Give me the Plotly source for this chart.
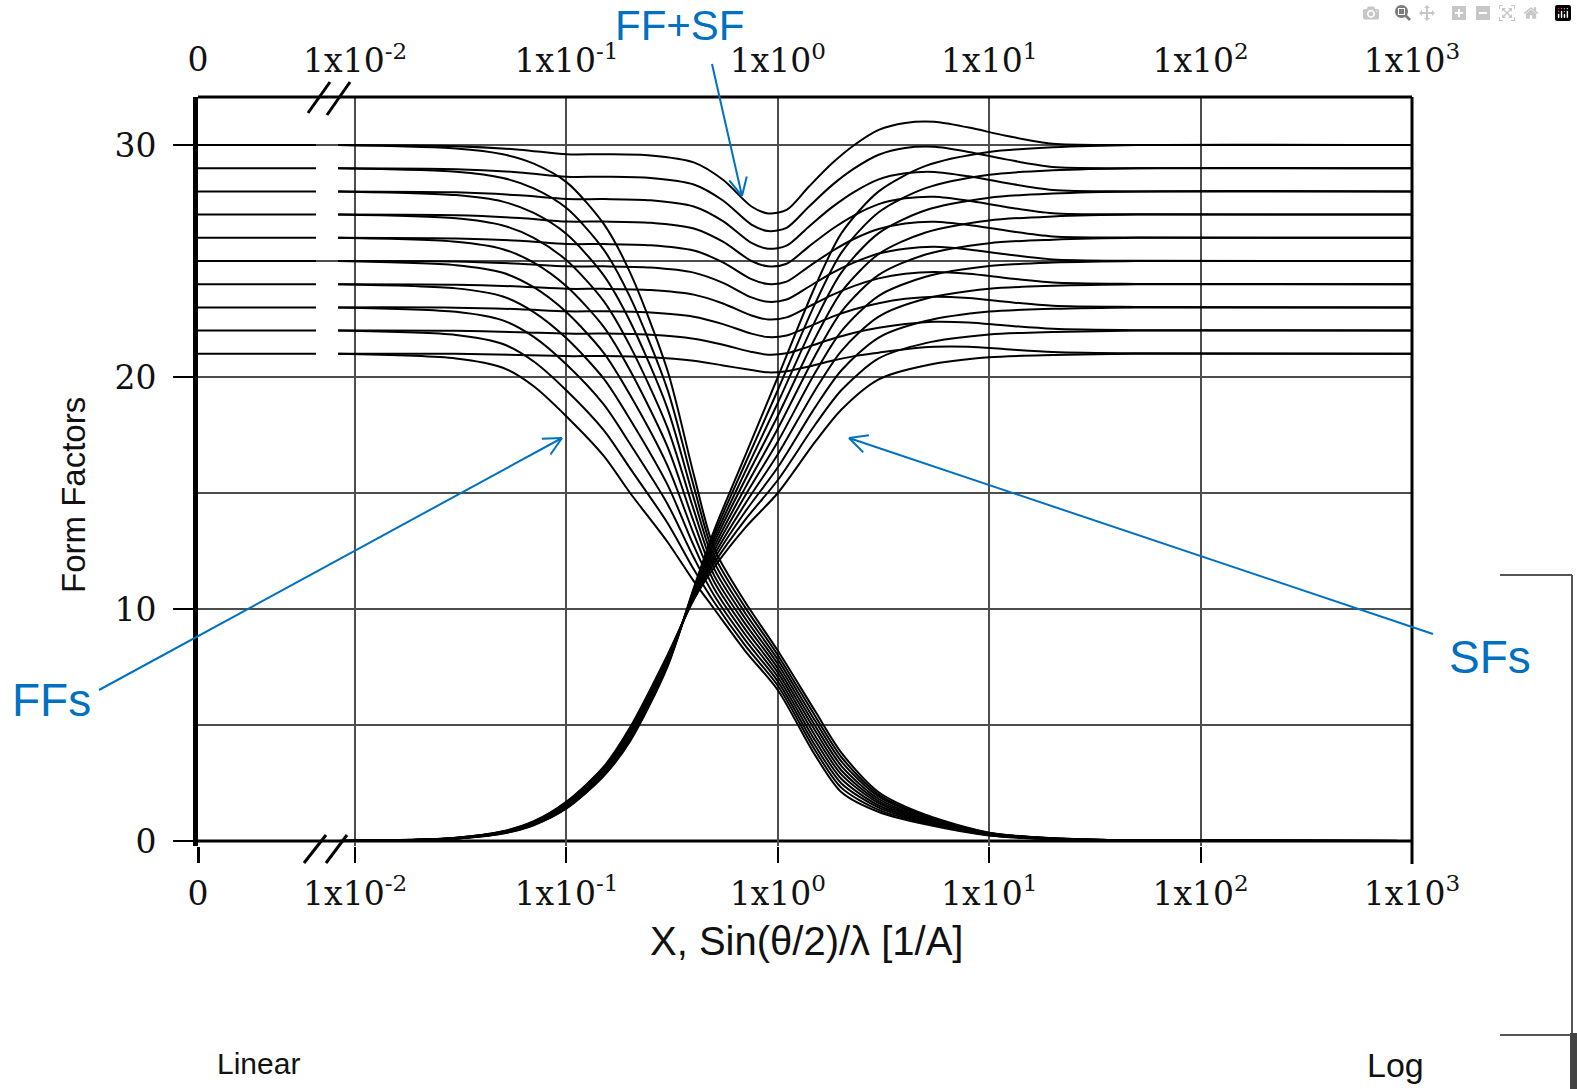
import math
import plotly.graph_objects as go

# ---------------- data ----------------
Z_VALUES = [21, 22, 23, 24, 25, 26, 27, 28, 29, 30]

# linear (0 ... break) part of the x axis
LIN_X = [0.0, 0.0075]

# Form factors (FF)
FF_X = [0.0083, 0.03, 0.05, 0.07, 0.1, 0.15, 0.2, 0.3, 0.4, 0.5, 0.7, 1.0, 1.5, 2.0, 3.0, 5.0, 10.0, 20.0, 50.0, 1000.0]
FF_VALUES = [
    [21.0, 20.8, 20.4, 19.6, 18.3, 16.6, 15.0, 12.9, 11.2, 10.0, 8.2, 6.5, 3.7, 2.1, 1.25, 0.72, 0.24, 0.08, 0.02, 0.0],
    [22.0, 21.81, 21.42, 20.67, 19.42, 17.71, 16.06, 13.72, 11.71, 10.29, 8.43, 6.69, 3.91, 2.29, 1.34, 0.77, 0.25, 0.08, 0.02, 0.0],
    [23.0, 22.81, 22.44, 21.73, 20.54, 18.82, 17.11, 14.54, 12.22, 10.58, 8.67, 6.88, 4.12, 2.48, 1.44, 0.81, 0.26, 0.09, 0.02, 0.0],
    [24.0, 23.82, 23.47, 22.8, 21.67, 19.93, 18.17, 15.37, 12.73, 10.87, 8.90, 7.07, 4.33, 2.67, 1.53, 0.86, 0.28, 0.09, 0.02, 0.0],
    [25.0, 24.82, 24.49, 23.87, 22.79, 21.04, 19.22, 16.19, 13.24, 11.16, 9.13, 7.26, 4.54, 2.86, 1.63, 0.90, 0.29, 0.10, 0.02, 0.0],
    [26.0, 25.83, 25.51, 24.93, 23.91, 22.16, 20.28, 17.01, 13.76, 11.44, 9.37, 7.44, 4.76, 3.04, 1.72, 0.95, 0.31, 0.10, 0.03, 0.0],
    [27.0, 26.84, 26.53, 26.0, 25.03, 23.27, 21.33, 17.83, 14.27, 11.73, 9.60, 7.63, 4.97, 3.23, 1.81, 0.99, 0.32, 0.11, 0.03, 0.0],
    [28.0, 27.84, 27.56, 27.07, 26.16, 24.38, 22.39, 18.66, 14.78, 12.02, 9.83, 7.82, 5.18, 3.42, 1.91, 1.04, 0.33, 0.11, 0.03, 0.0],
    [29.0, 28.85, 28.58, 28.13, 27.28, 25.49, 23.44, 19.48, 15.29, 12.31, 10.07, 8.01, 5.39, 3.61, 2.00, 1.08, 0.34, 0.12, 0.03, 0.0],
    [30.0, 29.85, 29.6, 29.2, 28.4, 26.6, 24.5, 20.3, 15.8, 12.6, 10.3, 8.2, 5.6, 3.8, 2.1, 1.13, 0.36, 0.12, 0.03, 0.0],
]

# Scattering functions (SF)
SF_X = [0.0083, 0.02, 0.03, 0.05, 0.07, 0.1, 0.15, 0.2, 0.3, 0.4, 0.5, 0.7, 1.0, 1.5, 2.0, 3.0, 5.0, 10.0, 20.0, 50.0, 1000.0]
SF_VALUES = [
    [0.0, 0.06, 0.14, 0.42, 0.85, 1.70, 3.20, 4.90, 8.00, 10.40, 11.80, 13.50, 15.00, 17.20, 18.60, 19.90, 20.50, 20.85, 20.95, 21.0, 21.0],
    [0.0, 0.06, 0.14, 0.41, 0.83, 1.67, 3.16, 4.83, 7.94, 10.46, 11.98, 13.84, 15.56, 17.94, 19.44, 20.80, 21.46, 21.83, 21.94, 22.0, 22.0],
    [0.0, 0.05, 0.13, 0.40, 0.81, 1.63, 3.11, 4.77, 7.89, 10.51, 12.16, 14.19, 16.11, 18.69, 20.29, 21.70, 22.41, 22.82, 22.94, 23.0, 23.0],
    [0.0, 0.05, 0.13, 0.39, 0.79, 1.60, 3.07, 4.70, 7.83, 10.57, 12.33, 14.53, 16.67, 19.43, 21.13, 22.60, 23.37, 23.80, 23.93, 24.0, 24.0],
    [0.0, 0.05, 0.12, 0.38, 0.77, 1.57, 3.02, 4.63, 7.78, 10.62, 12.51, 14.88, 17.22, 20.18, 21.98, 23.50, 24.32, 24.78, 24.93, 25.0, 25.0],
    [0.0, 0.05, 0.12, 0.36, 0.76, 1.53, 2.98, 4.57, 7.72, 10.68, 12.69, 15.22, 17.78, 20.92, 22.82, 24.40, 25.28, 25.77, 25.92, 26.0, 26.0],
    [0.0, 0.05, 0.11, 0.35, 0.74, 1.50, 2.93, 4.50, 7.67, 10.73, 12.87, 15.57, 18.33, 21.67, 23.67, 25.30, 26.23, 26.75, 26.92, 27.0, 27.0],
    [0.0, 0.04, 0.11, 0.34, 0.72, 1.47, 2.89, 4.43, 7.61, 10.79, 13.04, 15.91, 18.89, 22.41, 24.51, 26.20, 27.19, 27.73, 27.91, 28.0, 28.0],
    [0.0, 0.04, 0.10, 0.33, 0.70, 1.43, 2.84, 4.37, 7.56, 10.84, 13.22, 16.26, 19.44, 23.16, 25.36, 27.10, 28.14, 28.72, 28.91, 29.0, 29.0],
    [0.0, 0.04, 0.10, 0.32, 0.68, 1.40, 2.80, 4.30, 7.50, 10.90, 13.40, 16.60, 20.00, 23.90, 26.20, 28.00, 29.10, 29.70, 29.90, 30.0, 30.0],
]

# FF + SF sums
SUM_X = [0.0083, 0.03, 0.06, 0.1, 0.15, 0.25, 0.4, 0.55, 0.75, 0.9, 1.1, 1.4, 1.8, 2.3, 3.0, 4.0, 5.5, 8.0, 12.0, 20.0, 50.0, 1000.0]
SUM_VALUES = [
    [21.0, 21.0, 20.95, 20.9, 20.9, 20.85, 20.7, 20.5, 20.3, 20.2, 20.25, 20.45, 20.7, 20.9, 21.05, 21.2, 21.3, 21.3, 21.2, 21.08, 21.02, 21.0],
    [22.0, 21.99, 21.93, 21.87, 21.87, 21.82, 21.65, 21.39, 21.08, 20.96, 21.02, 21.31, 21.64, 21.91, 22.12, 22.28, 22.38, 22.35, 22.22, 22.08, 22.02, 22.0],
    [23.0, 22.99, 22.92, 22.83, 22.83, 22.78, 22.6, 22.28, 21.87, 21.72, 21.79, 22.17, 22.59, 22.92, 23.18, 23.37, 23.46, 23.4, 23.24, 23.07, 23.02, 23.0],
    [24.0, 23.98, 23.9, 23.8, 23.8, 23.75, 23.55, 23.17, 22.65, 22.48, 22.57, 23.03, 23.53, 23.93, 24.25, 24.45, 24.53, 24.45, 24.27, 24.07, 24.01, 24.0],
    [25.0, 24.98, 24.88, 24.77, 24.77, 24.72, 24.5, 24.06, 23.43, 23.24, 23.34, 23.89, 24.48, 24.94, 25.32, 25.53, 25.61, 25.5, 25.29, 25.07, 25.01, 25.0],
    [26.0, 25.97, 25.87, 25.73, 25.73, 25.68, 25.45, 24.94, 24.22, 24.01, 24.11, 24.76, 25.42, 25.96, 26.38, 26.62, 26.69, 26.55, 26.31, 26.06, 26.01, 26.0],
    [27.0, 26.97, 26.85, 26.7, 26.7, 26.65, 26.4, 25.83, 25.0, 24.77, 24.88, 25.62, 26.37, 26.97, 27.45, 27.7, 27.77, 27.6, 27.33, 27.06, 27.01, 27.0],
    [28.0, 27.96, 27.83, 27.67, 27.67, 27.62, 27.35, 26.72, 25.78, 25.53, 25.66, 26.48, 27.31, 27.98, 28.52, 28.78, 28.84, 28.65, 28.36, 28.06, 28.0, 28.0],
    [29.0, 28.96, 28.82, 28.63, 28.63, 28.58, 28.3, 27.61, 26.57, 26.29, 26.43, 27.34, 28.26, 28.99, 29.58, 29.87, 29.92, 29.7, 29.38, 29.05, 29.0, 29.0],
    [30.0, 29.95, 29.8, 29.6, 29.6, 29.55, 29.25, 28.5, 27.35, 27.05, 27.2, 28.2, 29.2, 30.0, 30.65, 30.95, 31.0, 30.75, 30.4, 30.05, 30.0, 30.0],
]

# axis ticks
X_TICK_VALS = [0.01, 0.1, 1, 10, 100, 1000]
X_TICK_TEXT = ["1x10<sup>-2</sup>", "1x10<sup>-1</sup>", "1x10<sup>0</sup>",
               "1x10<sup>1</sup>", "1x10<sup>2</sup>", "1x10<sup>3</sup>"]
Y_TICK_VALS = [0, 10, 20, 30]
Y_GRID = [0, 5, 10, 15, 20, 25, 30]

# ---------------- layout helpers (pixel -> paper) ----------------
W, H = 1577, 1089
def px(x):
    return x / W
def py(y):
    return 1 - y / H

SERIF = "DejaVu Serif, Liberation Serif, serif"
SANS = "Liberation Sans, Arial, sans-serif"
BLUE = "#0070C0"
GRID = "#4d4d4d"

fig = go.Figure()

curve = dict(color="black", width=2, shape="spline", smoothing=0.8)
flat = dict(color="black", width=2)
for z, ff, sf, sm in zip(Z_VALUES, FF_VALUES, SF_VALUES, SUM_VALUES):
    # linear section (x from 0 to the axis break)
    fig.add_trace(go.Scatter(x=LIN_X, y=[ff[0], ff[0]], xaxis="x", yaxis="y",
                             mode="lines", line=flat, hoverinfo="skip", showlegend=False))
    fig.add_trace(go.Scatter(x=LIN_X, y=[sf[0], sf[0]], xaxis="x", yaxis="y",
                             mode="lines", line=flat, hoverinfo="skip", showlegend=False))
    # log section
    fig.add_trace(go.Scatter(x=FF_X, y=ff, xaxis="x2", yaxis="y", mode="lines",
                             line=curve, name=f"FF Z={z}", showlegend=False))
    fig.add_trace(go.Scatter(x=SF_X, y=sf, xaxis="x2", yaxis="y", mode="lines",
                             line=curve, name=f"SF Z={z}", showlegend=False))
    fig.add_trace(go.Scatter(x=SUM_X, y=sm, xaxis="x2", yaxis="y", mode="lines",
                             line=curve, name=f"FF+SF Z={z}", showlegend=False))

# dummy traces so the top (mirrored label) axes exist
fig.add_trace(go.Scatter(x=[X_TICK_VALS[0], X_TICK_VALS[-1]], y=[None, None], xaxis="x3", yaxis="y",
                         mode="lines", hoverinfo="skip", showlegend=False))
fig.add_trace(go.Scatter(x=LIN_X, y=[None, None], xaxis="x4", yaxis="y",
                         mode="lines", hoverinfo="skip", showlegend=False))

LOG_RANGE = [math.log10(FF_X[0]), math.log10(X_TICK_VALS[-1])]
LIN_DOM = [px(198), px(316)]
LOG_DOM = [px(338), px(1412)]
Y_DOM = [py(846), py(97)]
Y_RANGE = [-5 / 23.2, 744 / 23.2]

tickfont = dict(family=SERIF, size=33, color="#111")

fig.update_layout(
    width=W, height=H,
    margin=dict(l=0, r=0, t=0, b=0, autoexpand=False),
    paper_bgcolor="white", plot_bgcolor="rgba(0,0,0,0)",
    showlegend=False,
    xaxis=dict(domain=LIN_DOM, range=[LIN_X[0], LIN_X[1]], anchor="y", automargin=False,
               tickmode="array", tickvals=[0], ticktext=["0"],
               ticks="outside", ticklen=16, tickwidth=3, tickcolor="black",
               ticklabelstandoff=2,
               showgrid=False, zeroline=False, showline=False, tickfont=tickfont),
    xaxis4=dict(domain=LIN_DOM, range=[LIN_X[0], LIN_X[1]], anchor="y", overlaying="x", side="top",
                automargin=False, tickmode="array", tickvals=[0], ticktext=["0"], ticks="",
                ticklabelstandoff=18,
                showgrid=False, zeroline=False, showline=False, tickfont=tickfont),
    xaxis2=dict(domain=LOG_DOM, type="log", range=LOG_RANGE, anchor="y", automargin=False,
                tickmode="array", tickvals=X_TICK_VALS, ticktext=X_TICK_TEXT,
                ticks="outside", ticklen=16, tickwidth=2, tickcolor="black",
                ticklabelstandoff=2,
                showgrid=True, gridcolor=GRID, gridwidth=2,
                zeroline=False, showline=False, tickfont=tickfont),
    xaxis3=dict(domain=LOG_DOM, type="log", range=LOG_RANGE, anchor="y", overlaying="x2", side="top",
                automargin=False, tickmode="array", tickvals=X_TICK_VALS, ticktext=X_TICK_TEXT, ticks="",
                ticklabelstandoff=17,
                showgrid=False, zeroline=False, showline=False, tickfont=tickfont),
    yaxis=dict(domain=Y_DOM, range=Y_RANGE, anchor="x", automargin=False,
               tickmode="array", tickvals=Y_TICK_VALS,
               ticks="outside", ticklen=20, tickwidth=2, tickcolor="black",
               ticklabelstandoff=10,
               showline=True, linewidth=5, linecolor="black",
               showgrid=False, zeroline=False, tickfont=tickfont),
)

shapes = []
# horizontal grid lines across both sections
for v in Y_GRID:
    shapes.append(dict(type="line", xref="paper", yref="y", x0=px(198), x1=px(1412), y0=v, y1=v,
                       line=dict(color="black" if v == 0 else GRID, width=3 if v == 0 else 2),
                       layer="below"))
# frame
shapes.append(dict(type="line", xref="paper", yref="paper", x0=px(198), x1=px(1412), y0=py(97), y1=py(97),
                   line=dict(color="black", width=3)))
shapes.append(dict(type="line", xref="paper", yref="paper", x0=px(1412), x1=px(1412), y0=py(97), y1=py(864),
                   line=dict(color="black", width=3)))
# axis break marks
for (x0, y0, x1, y1) in [(308, 113, 330, 82), (327, 115, 350, 82), (304, 863, 326, 835), (326, 863, 347, 835)]:
    shapes.append(dict(type="line", xref="paper", yref="paper", x0=px(x0), y0=py(y0), x1=px(x1), y1=py(y1),
                       line=dict(color="black", width=3)))
# right-hand bracket
for (x0, y0, x1, y1) in [(1500, 575, 1572, 575), (1572, 575, 1572, 1035), (1500, 1035, 1572, 1035)]:
    shapes.append(dict(type="line", xref="paper", yref="paper", x0=px(x0), y0=py(y0), x1=px(x1), y1=py(y1),
                       line=dict(color="#555", width=2)))
shapes.append(dict(type="rect", xref="paper", yref="paper", x0=px(1570), x1=px(1577), y0=py(1089), y1=py(1033),
                   line=dict(width=0), fillcolor="#444"))

# blue arrows with open heads
def arrow(tail, head, size=18, half=9):
    tx, ty = tail
    hx, hy = head
    d = math.hypot(hx - tx, hy - ty)
    ux, uy = (hx - tx) / d, (hy - ty) / d
    nx, ny = -uy, ux
    out = [dict(type="line", xref="paper", yref="paper", x0=px(tx), y0=py(ty), x1=px(hx), y1=py(hy),
                line=dict(color=BLUE, width=2))]
    for s in (1, -1):
        bx = hx - size * ux + s * half * nx
        by = hy - size * uy + s * half * ny
        out.append(dict(type="line", xref="paper", yref="paper", x0=px(bx), y0=py(by), x1=px(hx), y1=py(hy),
                        line=dict(color=BLUE, width=2)))
    return out

shapes += arrow((712, 64), (742, 196))
shapes += arrow((99, 690), (562, 438))
shapes += arrow((1433, 634), (849, 438))
fig.update_layout(shapes=shapes)

ann = [
    dict(text="FF+SF", x=px(680), y=py(25), font=dict(family=SANS, size=42, color=BLUE)),
    dict(text="FFs", x=px(52), y=py(700), font=dict(family=SANS, size=46, color=BLUE)),
    dict(text="SFs", x=px(1490), y=py(657), font=dict(family=SANS, size=46, color=BLUE)),
    dict(text="Form Factors", x=px(73), y=py(495), textangle=-90, font=dict(family=SANS, size=33, color="#111")),
    dict(text="X, Sin(θ/2)/λ [1/A]", x=px(806), y=py(941), font=dict(family=SANS, size=40, color="#111")),
    dict(text="Linear", x=px(258), y=py(1063), font=dict(family=SANS, size=30, color="#111")),
    dict(text="Log", x=px(1395), y=py(1065), font=dict(family=SANS, size=34, color="#111")),
]
for a in ann:
    a.update(xref="paper", yref="paper", showarrow=False, xanchor="center", yanchor="middle")
fig.update_layout(annotations=ann)

fig.write_html("out.html", post_script="document.body.style.margin='0';document.body.style.overflow='hidden';")
